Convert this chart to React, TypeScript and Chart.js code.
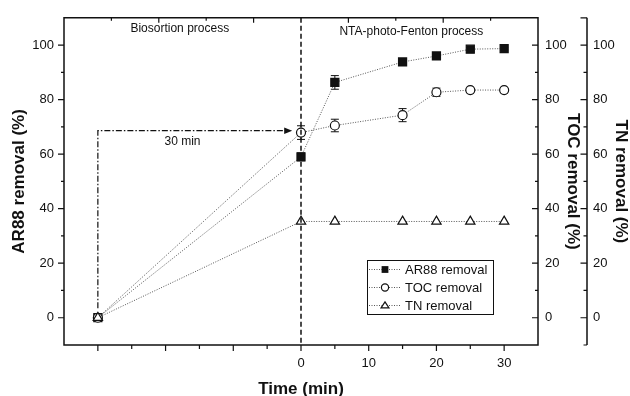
import { useEffect, useRef } from 'react';
import { Chart, registerables } from 'chart.js';

Chart.register(...registerables);

// Sampling times (min); -30 marks the start of the 30 min biosorption step
const timeMin = [-30, 0, 5, 15, 20, 25, 30];
const ar88Removal = [0, 59, 86.3, 93.8, 96, 98.5, 98.7];
const ar88Error = [0.4, 1.4, 2.5, 0.8, 0.8, 0.6, 0.5];
const tocRemoval = [0, 67.9, 70.5, 74.3, 82.7, 83.5, 83.5];
const tocError = [0.4, 2.5, 2.3, 2.4, 1.5, 0.6, 0.6];
const tnRemoval = [0, 35.3, 35.3, 35.3, 35.3, 35.3, 35.3];
const tnError = [0, 0, 0, 0, 0, 0, 0];

const seriesNames = ['AR88 removal', 'TOC removal', 'TN removal'];
const xLabelTicks = [0, 10, 20, 30];
const yLabelTicks = [0, 20, 40, 60, 80, 100];
const phaseLabels = ['Biosortion process', 'NTA-photo-Fenton process'];
const arrowLabel = '30 min';

const FONT = '"Liberation Sans", Arial, Helvetica, sans-serif';
const INK = '#111';
const LINE = '#555';

// phase annotation anchors in data units
const phaseAnchorX = [-17.9, 16.3];
const phaseAnchorY = [105.9, 105.0];
const arrowStartX = -30;
const arrowBottomY = 3.5;
const arrowLevelY = 68.6;
const arrowTipX = -1.3;
const arrowLabelX = -17.5;
const arrowLabelY = 64.4;

type Marker = 'rect' | 'circle' | 'triangle';
const markerKinds: Marker[] = ['rect', 'circle', 'triangle'];

function drawMarker(ctx: CanvasRenderingContext2D, kind: Marker, x: number, y: number, s: number) {
  ctx.save();
  ctx.lineWidth = 1.2;
  ctx.strokeStyle = INK;
  ctx.setLineDash([]);
  ctx.beginPath();
  if (kind === 'rect') {
    ctx.fillStyle = INK;
    ctx.rect(x - s, y - s, 2 * s, 2 * s);
    ctx.fill();
  } else if (kind === 'circle') {
    ctx.fillStyle = '#fff';
    ctx.arc(x, y, s, 0, Math.PI * 2);
    ctx.fill();
    ctx.stroke();
  } else {
    ctx.fillStyle = '#fff';
    const h = s * 1.7;
    ctx.moveTo(x, y - h * 0.6);
    ctx.lineTo(x + s * 1.1, y + h * 0.4);
    ctx.lineTo(x - s * 1.1, y + h * 0.4);
    ctx.closePath();
    ctx.fill();
    ctx.stroke();
  }
  ctx.restore();
}

const errorSets = [ar88Error, tocError, tnError];

const decorations = {
  id: 'decorations',
  beforeDatasetsDraw(chart: any) {
    const { ctx, scales } = chart;
    const xs = scales.x;
    ctx.save();
    ctx.strokeStyle = INK;
    ctx.lineWidth = 1;
    ctx.setLineDash([]);
    chart.data.datasets.forEach((ds: any, i: number) => {
      const ys = scales[ds.yAxisID];
      const errs = errorSets[i];
      ds.data.forEach((pt: any, j: number) => {
        const e = errs[j];
        if (!e) return;
        const x = xs.getPixelForValue(pt.x);
        const y1 = ys.getPixelForValue(pt.y + e);
        const y2 = ys.getPixelForValue(pt.y - e);
        ctx.beginPath();
        ctx.moveTo(x, y1);
        ctx.lineTo(x, y2);
        ctx.moveTo(x - 4, y1);
        ctx.lineTo(x + 4, y1);
        ctx.moveTo(x - 4, y2);
        ctx.lineTo(x + 4, y2);
        ctx.stroke();
      });
    });
    ctx.restore();
  },
  afterDatasetsDraw(chart: any) {
    const { ctx, scales, chartArea } = chart;
    const xs = scales.x;
    const ys = scales.y;
    const y3 = scales.y3;
    const { left, right, top, bottom } = chartArea;
    ctx.save();

    // boundary between the two treatment stages
    ctx.strokeStyle = INK;
    ctx.lineWidth = 1.5;
    ctx.setLineDash([5, 3]);
    const x0 = xs.getPixelForValue(0);
    ctx.beginPath();
    ctx.moveTo(x0, top);
    ctx.lineTo(x0, bottom);
    ctx.stroke();

    // dash-dot arrow marking the biosorption time
    ctx.lineWidth = 1.2;
    ctx.setLineDash([6, 2, 1.5, 2]);
    const ax = xs.getPixelForValue(arrowStartX);
    const ayb = ys.getPixelForValue(arrowBottomY);
    const ayl = ys.getPixelForValue(arrowLevelY);
    const atx = xs.getPixelForValue(arrowTipX);
    ctx.beginPath();
    ctx.moveTo(ax, ayb);
    ctx.lineTo(ax, ayl);
    ctx.lineTo(atx - 7, ayl);
    ctx.stroke();
    ctx.setLineDash([]);
    ctx.fillStyle = INK;
    ctx.beginPath();
    ctx.moveTo(atx, ayl);
    ctx.lineTo(atx - 8, ayl - 3.2);
    ctx.lineTo(atx - 8, ayl + 3.2);
    ctx.closePath();
    ctx.fill();

    // frame and axis lines
    ctx.lineWidth = 1.5;
    ctx.strokeStyle = INK;
    ctx.beginPath();
    ctx.rect(left, top, right - left, bottom - top);
    const tnX = y3.left;
    ctx.moveTo(tnX, top);
    ctx.lineTo(tnX, bottom);
    ctx.stroke();

    // tick marks
    ctx.lineWidth = 1.2;
    ctx.beginPath();
    for (let v = 0; v <= 100; v += 10) {
      const major = v % 20 === 0;
      const len = major ? 6 : 3;
      const py = ys.getPixelForValue(v);
      ctx.moveTo(left, py);
      ctx.lineTo(left - len, py);
      ctx.moveTo(right, py);
      ctx.lineTo(right - len, py);
    }
    for (let v = -10; v <= 110; v += 10) {
      const major = v % 20 === 0 || v === 110;
      const len = major ? 6.5 : 3.5;
      const py = y3.getPixelForValue(v);
      ctx.moveTo(tnX, py);
      ctx.lineTo(tnX - len, py);
    }
    for (let v = -30; v <= 30; v += 5) {
      const len = v % 10 === 0 ? 6 : 4;
      const px = xs.getPixelForValue(v);
      ctx.moveTo(px, bottom);
      ctx.lineTo(px, bottom + len);
    }
    for (let k = -4; k <= 4; k++) {
      if (k === 0) continue;
      const len = Math.abs(k) % 2 === 1 ? 5 : 3;
      const px = xs.getPixelForValue(k * 7);
      ctx.moveTo(px, top);
      ctx.lineTo(px, top + len);
    }
    ctx.stroke();

    // stage names and arrow label
    ctx.fillStyle = INK;
    ctx.font = `12px ${FONT}`;
    ctx.textAlign = 'center';
    ctx.textBaseline = 'middle';
    phaseLabels.forEach((t, i) => {
      ctx.fillText(t, xs.getPixelForValue(phaseAnchorX[i]), ys.getPixelForValue(phaseAnchorY[i]));
    });
    ctx.fillText(arrowLabel, xs.getPixelForValue(arrowLabelX), ys.getPixelForValue(arrowLabelY));

    // legend box
    const bx = right - 171;
    const by = bottom - 85;
    const bw = 126;
    const bh = 54;
    ctx.fillStyle = '#fff';
    ctx.fillRect(bx, by, bw, bh);
    ctx.lineWidth = 1;
    ctx.strokeStyle = INK;
    ctx.strokeRect(bx + 0.5, by + 0.5, bw, bh);
    ctx.font = `13px ${FONT}`;
    ctx.textAlign = 'left';
    seriesNames.forEach((name, i) => {
      const ry = by + 9.5 + i * 18;
      ctx.strokeStyle = LINE;
      ctx.lineWidth = 1;
      ctx.setLineDash([1, 1.5]);
      ctx.beginPath();
      ctx.moveTo(bx + 2, ry);
      ctx.lineTo(bx + 34, ry);
      ctx.stroke();
      ctx.setLineDash([]);
      drawMarker(ctx, markerKinds[i], bx + 18, ry, markerKinds[i] === 'rect' ? 3.4 : 3.6);
      ctx.fillStyle = INK;
      ctx.fillText(name, bx + 38, ry + 0.5);
    });

    ctx.restore();
  },
};

function toPoints(values: number[]) {
  return timeMin.map((t, i) => ({ x: t, y: values[i] }));
}

const tickFont = { family: FONT, size: 13 };
const titleFont = { family: FONT, size: 17, weight: 'bold' as const };

function yScale(position: string, padding: number, width: number, title: string, titlePad: number) {
  return {
    type: 'linear' as const,
    position,
    min: -10,
    max: 110,
    afterBuildTicks: (s: any) => {
      s.ticks = yLabelTicks.map((v) => ({ value: v }));
    },
    afterFit: (s: any) => {
      s.width = width;
    },
    ticks: { padding, color: INK, font: tickFont, callback: (v: any) => String(v) },
    grid: { display: false, drawTicks: false },
    border: { display: false },
    title: { display: true, text: title, color: INK, font: titleFont, padding: { top: titlePad, bottom: 0 } },
  };
}

export default function App() {
  const ref = useRef<HTMLCanvasElement>(null);

  useEffect(() => {
    const canvas = ref.current;
    if (!canvas) return;
    const common = {
      showLine: true,
      borderColor: LINE,
      borderWidth: 1,
      borderDash: [1, 1.5],
      pointBorderColor: INK,
      pointBorderWidth: 1.2,
      pointHoverRadius: 0,
    };
    const chart = new Chart(canvas, {
      type: 'scatter',
      data: {
        datasets: [
          {
            ...common,
            label: seriesNames[0],
            data: toPoints(ar88Removal),
            yAxisID: 'y',
            order: 3,
            pointStyle: 'rect',
            pointRadius: 5.7,
            pointBackgroundColor: INK,
          },
          {
            ...common,
            label: seriesNames[1],
            data: toPoints(tocRemoval),
            yAxisID: 'y2',
            order: 2,
            pointStyle: 'circle',
            pointRadius: 4.5,
            pointBackgroundColor: '#fff',
          },
          {
            ...common,
            label: seriesNames[2],
            data: toPoints(tnRemoval),
            yAxisID: 'y3',
            order: 1,
            pointStyle: 'triangle',
            pointRadius: 5.4,
            pointBackgroundColor: '#fff',
          },
        ],
      },
      options: {
        responsive: false,
        animation: false,
        events: [],
        layout: { padding: { top: 14, left: 0, right: 0, bottom: 0 } },
        plugins: { legend: { display: false }, tooltip: { enabled: false } },
        scales: {
          x: {
            type: 'linear',
            min: -35,
            max: 35,
            afterBuildTicks: (s: any) => {
              s.ticks = xLabelTicks.map((v) => ({ value: v }));
            },
            afterFit: (s: any) => {
              s.height = 51;
            },
            ticks: { padding: 11, color: INK, font: tickFont, maxRotation: 0, autoSkip: false, callback: (v: any) => String(v) },
            grid: { display: false, drawTicks: false },
            border: { display: false },
            title: { display: true, text: 'Time (min)', color: INK, font: titleFont, padding: { top: 0, bottom: -4 } },
          },
          y: yScale('left', 10, 64, 'AR88 removal (%)', 9),
          y2: yScale('right', 7, 49, 'TOC removal (%)', 4.3),
          y3: yScale('right', 6, 43, 'TN removal (%)', -1),
        } as any,
      },
      plugins: [decorations],
    });
    return () => chart.destroy();
  }, []);

  return (
    <div style={{ position: 'fixed', left: 0, top: 0, width: 630, height: 396, background: '#fff' }}>
      <canvas ref={ref} width={630} height={396} style={{ display: 'block' }} />
    </div>
  );
}
